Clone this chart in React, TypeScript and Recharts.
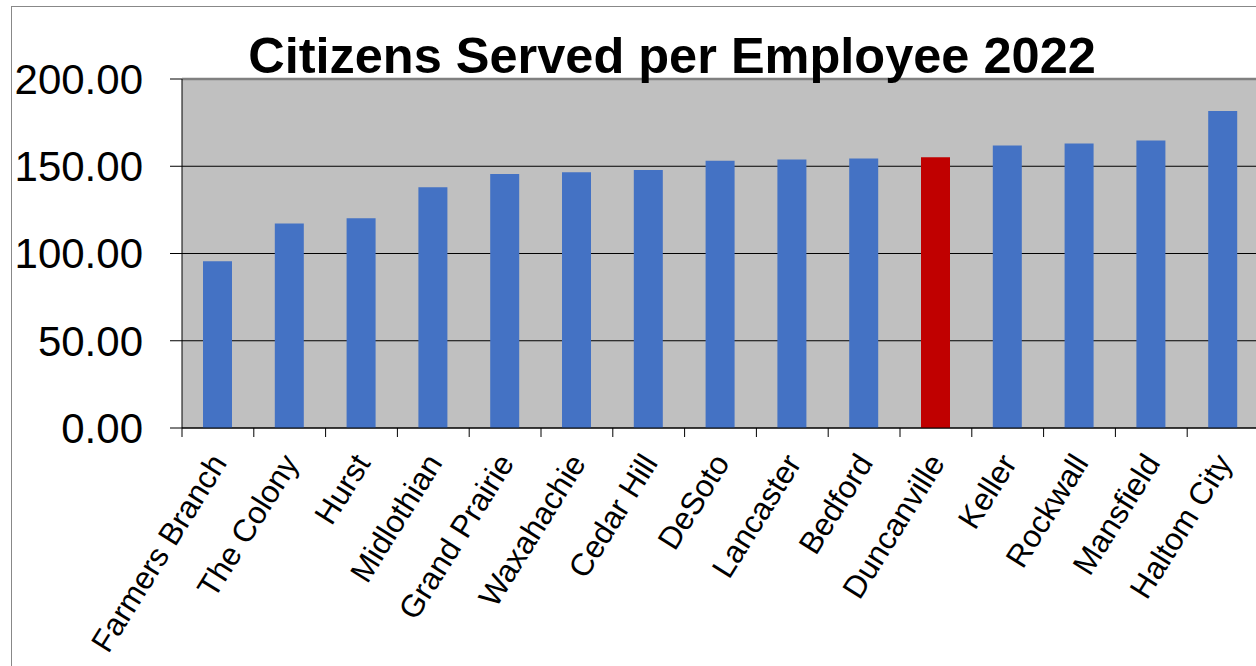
import React from 'react';
import { BarChart, Bar, XAxis, YAxis, CartesianGrid, Cell, ReferenceLine } from 'recharts';

const cities = [
  'Farmers Branch',
  'The Colony',
  'Hurst',
  'Midlothian',
  'Grand Prairie',
  'Waxahachie',
  'Cedar Hill',
  'DeSoto',
  'Lancaster',
  'Bedford',
  'Duncanville',
  'Keller',
  'Rockwall',
  'Mansfield',
  'Haltom City',
];
const citizensPerEmployee = [95.5, 117.2, 120.2, 138.0, 145.5, 146.6, 147.9, 153.2, 153.9, 154.5, 155.2, 161.9, 163.1, 164.8, 181.6];
const yTicks = [0, 50, 100, 150, 200];
const highlightCity = 'Duncanville';
const title = 'Citizens Served per Employee 2022';

const data = cities.map((city, i) => ({ city, value: citizensPerEmployee[i] }));

const FONT = '"Liberation Sans", Arial, Helvetica, sans-serif';
const PLOT_LEFT = 182;
const PLOT_TOP = 79;
const PLOT_BOTTOM = 428;
const PLOT_RIGHT = 1259;
const CHART_W = 1300;
const CHART_H = 666;
const BAND = (PLOT_RIGHT - PLOT_LEFT) / cities.length;

function CityTick(props: any) {
  const { x, payload } = props;
  const ax = x + 10;
  const ay = PLOT_BOTTOM + 35;
  return (
    <g>
      <line x1={x - BAND / 2} x2={x - BAND / 2} y1={PLOT_BOTTOM} y2={PLOT_BOTTOM + 9} stroke="#000" strokeWidth={1} />
      <text
        x={ax}
        y={ay}
        transform={`rotate(-58 ${ax} ${ay})`}
        textAnchor="end"
        fontSize={31.5}
        fill="#000"
        fontFamily={FONT}
      >
        {payload.value}
      </text>
    </g>
  );
}

export default function App() {
  return (
    <div
      style={{
        position: 'absolute',
        left: 0,
        top: 0,
        width: 1256,
        height: 666,
        overflow: 'hidden',
        background: '#fff',
      }}
    >
      <div
        style={{
          position: 'absolute',
          left: 11,
          top: 6,
          width: 2000,
          height: 2000,
          borderLeft: '1px solid #888',
          borderTop: '1px solid #888',
        }}
      />
      <div style={{ position: 'absolute', left: 0, top: 0 }}>
        <BarChart
          width={CHART_W}
          height={CHART_H}
          data={data}
          margin={{ top: PLOT_TOP, right: CHART_W - PLOT_RIGHT, left: 0, bottom: 0 }}
          barSize={29}
        >
          <CartesianGrid vertical={false} stroke="#000" strokeWidth={1} fill="#c0c0c0" fillOpacity={1} />
          <XAxis
            dataKey="city"
            interval={0}
            height={CHART_H - PLOT_BOTTOM}
            tickLine={false}
            axisLine={{ stroke: '#000', strokeWidth: 1 }}
            tick={<CityTick />}
          />
          <YAxis
            width={PLOT_LEFT}
            domain={[0, 200]}
            ticks={yTicks}
            interval={0}
            tickFormatter={(v: number) => v.toFixed(2)}
            tickSize={12}
            tickMargin={27}
            tick={{ fontSize: 42, fill: '#000', fontFamily: FONT }}
            tickLine={{ stroke: '#000' }}
            axisLine={{ stroke: '#000', strokeWidth: 1 }}
          />
          <ReferenceLine y={200} stroke="#808080" strokeWidth={2.5} />
          <Bar dataKey="value" isAnimationActive={false}>
            {data.map((d) => (
              <Cell key={d.city} fill={d.city === highlightCity ? '#C00000' : '#4472C4'} />
            ))}
          </Bar>
        </BarChart>
      </div>
      <div
        style={{
          position: 'absolute',
          left: 0,
          top: 31,
          width: 1344,
          textAlign: 'center',
          fontFamily: FONT,
          fontWeight: 'bold',
          fontSize: 50.5,
          lineHeight: '50px',
          color: '#000',
          whiteSpace: 'nowrap',
        }}
      >
        {title}
      </div>
    </div>
  );
}
